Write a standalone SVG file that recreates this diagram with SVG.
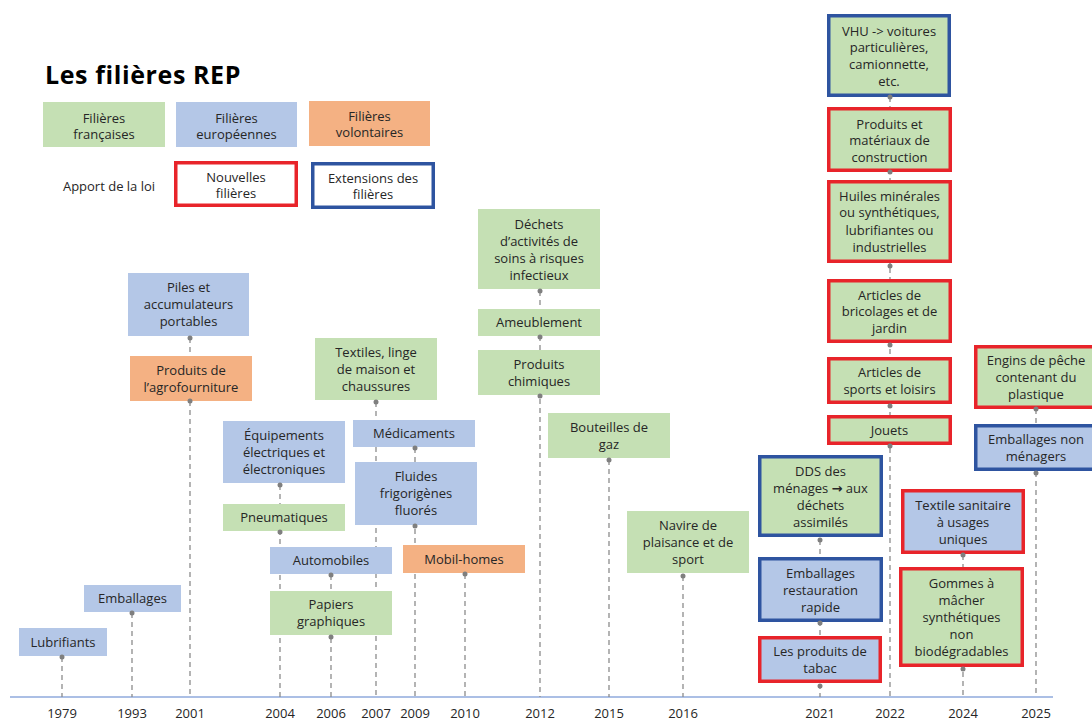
<svg xmlns="http://www.w3.org/2000/svg" width="1092" height="720" viewBox="0 0 1092 720">
<style>
text{font-family:"Open Sans","Noto Sans","DejaVu Sans",sans-serif;font-size:13px;fill:#262626;text-anchor:middle}
.title{font-size:25px;font-weight:bold;fill:#000;text-anchor:start;letter-spacing:0.6px}
.g{fill:#c5e0b4}
.b{fill:#b4c7e7}
.o{fill:#f4b183}
.w{fill:#ffffff}
.nr{stroke:#e8242a;stroke-width:3.5}
.nb{stroke:#2e54a0;stroke-width:3.5}
.dash{stroke:#8c8c8c;stroke-width:1.3;stroke-dasharray:5 4;fill:none}
.dot{fill:#7f7f7f}
.axis{stroke:#8faadc;stroke-width:1.6}
</style>
<rect width="1092" height="720" fill="#ffffff"/>
<text class="title" x="45" y="84">Les filières REP</text>

<g id="legend">
<rect class="g" x="43" y="102" width="122" height="45"/>
<text x="104" y="122.5">Filières</text><text x="104" y="138.5">françaises</text>
<rect class="b" x="176" y="102" width="121" height="45"/>
<text x="236.5" y="122.5">Filières</text><text x="236.5" y="138.5">européennes</text>
<rect class="o" x="309" y="101" width="121" height="45"/>
<text x="369.5" y="121">Filières</text><text x="369.5" y="137">volontaires</text>
<text x="109" y="190.5">Apport de la loi</text>
<rect class="w nr" x="175.75" y="162.75" width="120.5" height="42.5"/>
<text x="236" y="181.5">Nouvelles</text><text x="236" y="197.5">filières</text>
<rect class="w nb" x="312.75" y="163.75" width="120.5" height="43.5"/>
<text x="373" y="182.5">Extensions des</text><text x="373" y="198.5">filières</text>
</g>

<g id="connectors">
<line class="axis" x1="10" y1="697" x2="1053" y2="697"/>
<line class="dash" x1="62" y1="657" x2="62" y2="697"/>
<line class="dash" x1="132" y1="613" x2="132" y2="697"/>
<line class="dash" x1="190" y1="338" x2="190" y2="697"/>
<line class="dash" x1="280" y1="485" x2="280" y2="697"/>
<line class="dash" x1="331" y1="575" x2="331" y2="697"/>
<line class="dash" x1="376" y1="402" x2="376" y2="697"/>
<line class="dash" x1="415" y1="448" x2="415" y2="697"/>
<line class="dash" x1="465" y1="574" x2="465" y2="697"/>
<line class="dash" x1="540" y1="291" x2="540" y2="697"/>
<line class="dash" x1="609" y1="460" x2="609" y2="697"/>
<line class="dash" x1="683" y1="576" x2="683" y2="697"/>
<line class="dash" x1="820" y1="540" x2="820" y2="697"/>
<line class="dash" x1="890" y1="97" x2="890" y2="697"/>
<line class="dash" x1="963" y1="555" x2="963" y2="697"/>
<line class="dash" x1="1036" y1="409" x2="1036" y2="697"/>
</g>

<g id="years">
<text x="62" y="718">1979</text>
<text x="132" y="718">1993</text>
<text x="190" y="718">2001</text>
<text x="280" y="718">2004</text>
<text x="331" y="718">2006</text>
<text x="376" y="718">2007</text>
<text x="415" y="718">2009</text>
<text x="465" y="718">2010</text>
<text x="540" y="718">2012</text>
<text x="609" y="718">2015</text>
<text x="683" y="718">2016</text>
<text x="820" y="718">2021</text>
<text x="890" y="718">2022</text>
<text x="963" y="718">2024</text>
<text x="1036" y="718">2025</text>
</g>

<g id="n-lubrifiants"><rect class="b" x="19" y="628" width="88" height="28"/><text x="63" y="646.5">Lubrifiants</text><circle class="dot" cx="62" cy="657" r="2.5"/></g>
<g id="n-emballages"><rect class="b" x="84" y="585" width="97" height="27"/><text x="132.5" y="603">Emballages</text><circle class="dot" cx="132" cy="613" r="2.5"/></g>
<g id="n-piles"><rect class="b" x="128" y="273" width="121" height="63"/><text x="188.5" y="292">Piles et</text><text x="188.5" y="309">accumulateurs</text><text x="188.5" y="326">portables</text><circle class="dot" cx="190" cy="338" r="2.5"/></g>
<g id="n-agro"><rect class="o" x="130" y="356" width="122" height="45"/><text x="191" y="375">Produits de</text><text x="191" y="392">l’agrofourniture</text><circle class="dot" cx="190" cy="401" r="2.5"/></g>
<g id="n-deee"><rect class="b" x="223" y="421" width="122" height="62"/><text x="284" y="439.5">Équipements</text><text x="284" y="456.5">électriques et</text><text x="284" y="473.5">électroniques</text><circle class="dot" cx="280" cy="485" r="2.5"/></g>
<g id="n-pneu"><rect class="g" x="223" y="504" width="122" height="27"/><text x="284" y="522">Pneumatiques</text><circle class="dot" cx="280" cy="532" r="2.5"/></g>
<g id="n-auto"><rect class="b" x="270" y="547" width="122" height="27"/><text x="331" y="565">Automobiles</text><circle class="dot" cx="331" cy="575" r="2.5"/></g>
<g id="n-papiers"><rect class="g" x="270" y="591" width="122" height="44"/><text x="331" y="609">Papiers</text><text x="331" y="626">graphiques</text><circle class="dot" cx="331" cy="637" r="2.5"/></g>
<g id="n-textiles"><rect class="g" x="315" y="338" width="122" height="62"/><text x="376" y="356.5">Textiles, linge</text><text x="376" y="373.5">de maison et</text><text x="376" y="390.5">chaussures</text><circle class="dot" cx="376" cy="402" r="2.5"/></g>
<g id="n-medic"><rect class="b" x="353" y="420" width="122" height="27"/><text x="414" y="438">Médicaments</text><circle class="dot" cx="415" cy="448" r="2.5"/></g>
<g id="n-fluides"><rect class="b" x="355" y="462" width="122" height="63"/><text x="416" y="481">Fluides</text><text x="416" y="498">frigorigènes</text><text x="416" y="515">fluorés</text><circle class="dot" cx="415" cy="526" r="2.5"/></g>
<g id="n-mobil"><rect class="o" x="403" y="545" width="122" height="28"/><text x="464" y="563.5">Mobil-homes</text><circle class="dot" cx="465" cy="574" r="2.5"/></g>
<g id="n-dasri"><rect class="g" x="478" y="209" width="122" height="80"/><text x="539" y="229">Déchets</text><text x="539" y="246">d’activités de</text><text x="539" y="263">soins à risques</text><text x="539" y="280">infectieux</text><circle class="dot" cx="540" cy="291" r="2.5"/></g>
<g id="n-ameub"><rect class="g" x="478" y="309" width="122" height="27"/><text x="539" y="327">Ameublement</text><circle class="dot" cx="540" cy="337" r="2.5"/></g>
<g id="n-chim"><rect class="g" x="478" y="350" width="122" height="45"/><text x="539" y="368.5">Produits</text><text x="539" y="385.5">chimiques</text><circle class="dot" cx="540" cy="396" r="2.5"/></g>
<g id="n-gaz"><rect class="g" x="548" y="413" width="122" height="45"/><text x="609" y="431.5">Bouteilles de</text><text x="609" y="448.5">gaz</text><circle class="dot" cx="609" cy="460" r="2.5"/></g>
<g id="n-navire"><rect class="g" x="627" y="511" width="122" height="62"/><text x="688" y="529.5">Navire de</text><text x="688" y="546.5">plaisance et de</text><text x="688" y="563.5">sport</text><circle class="dot" cx="683" cy="576" r="2.5"/></g>
<g id="n-dds"><rect class="g nb" x="759.75" y="456.75" width="121.5" height="78.5"/><text x="820.5" y="476">DDS des</text><text x="820.5" y="493">ménages <tspan font-weight="bold">→</tspan> aux</text><text x="820.5" y="510">déchets</text><text x="820.5" y="527">assimilés</text><circle class="dot" cx="820" cy="540" r="2.5"/></g>
<g id="n-restau"><rect class="b nb" x="759.75" y="558.75" width="121.5" height="61.5"/><text x="820.5" y="577.5">Emballages</text><text x="820.5" y="594.5">restauration</text><text x="820.5" y="611.5">rapide</text><circle class="dot" cx="820" cy="623" r="2.5"/></g>
<g id="n-tabac"><rect class="b nr" x="759.75" y="637.75" width="120.5" height="43.5"/><text x="820" y="656">Les produits de</text><text x="820" y="673">tabac</text><circle class="dot" cx="820" cy="686" r="2.5"/></g>
<g id="n-vhu"><rect class="g nb" x="828.75" y="15.75" width="120.5" height="79.5"/><text x="889" y="35.5">VHU -&gt; voitures</text><text x="889" y="52">particulières,</text><text x="889" y="69">camionnette,</text><text x="889" y="86">etc.</text><circle class="dot" cx="890" cy="97" r="2.5"/></g>
<g id="n-pmcb"><rect class="g nr" x="828.75" y="108.75" width="121.5" height="61.5"/><text x="889.5" y="128.5">Produits et</text><text x="889.5" y="145">matériaux de</text><text x="889.5" y="162">construction</text><circle class="dot" cx="890" cy="172" r="2.5"/></g>
<g id="n-huiles"><rect class="g nr" x="828.75" y="181.75" width="121.5" height="79.5"/><text x="889.5" y="200.5">Huiles minérales</text><text x="889.5" y="217">ou synthétiques,</text><text x="889.5" y="234.5">lubrifiantes ou</text><text x="889.5" y="251.5">industrielles</text><circle class="dot" cx="890" cy="266" r="2.5"/></g>
<g id="n-bricolage"><rect class="g nr" x="828.75" y="280.75" width="121.5" height="60.5"/><text x="889.5" y="299.5">Articles de</text><text x="889.5" y="316">bricolages et de</text><text x="889.5" y="332.5">jardin</text><circle class="dot" cx="890" cy="345" r="2.5"/></g>
<g id="n-sports"><rect class="g nr" x="828.75" y="358.75" width="121.5" height="43.5"/><text x="889.5" y="376.5">Articles de</text><text x="889.5" y="393.5">sports et loisirs</text><circle class="dot" cx="890" cy="406" r="2.5"/></g>
<g id="n-jouets"><rect class="g nr" x="828.75" y="416.75" width="121.5" height="26.5"/><text x="889.5" y="434.5">Jouets</text><circle class="dot" cx="890" cy="446" r="2.5"/></g>
<g id="n-engins"><rect class="g nr" x="975.75" y="346.75" width="120.5" height="60.5"/><text x="1036" y="365">Engins de pêche</text><text x="1036" y="382">contenant du</text><text x="1036" y="399">plastique</text><circle class="dot" cx="1036" cy="409" r="2.5"/></g>
<g id="n-embnm"><rect class="b nb" x="975.75" y="425.75" width="120.5" height="43.5"/><text x="1036" y="444">Emballages non</text><text x="1036" y="461">ménagers</text><circle class="dot" cx="1036" cy="473" r="2.5"/></g>
<g id="n-textsan"><rect class="b nr" x="902.75" y="490.75" width="120.5" height="61.5"/><text x="963" y="509.5">Textile sanitaire</text><text x="963" y="526.5">à usages</text><text x="963" y="543.5">uniques</text><circle class="dot" cx="963" cy="555" r="2.5"/></g>
<g id="n-gommes"><rect class="g nr" x="900.75" y="568.75" width="121.5" height="96.5"/><text x="961.5" y="587.5">Gommes à</text><text x="961.5" y="604.5">mâcher</text><text x="961.5" y="621.5">synthétiques</text><text x="961.5" y="638.5">non</text><text x="961.5" y="655.5">biodégradables</text><circle class="dot" cx="963" cy="669" r="2.5"/></g>
</svg>
